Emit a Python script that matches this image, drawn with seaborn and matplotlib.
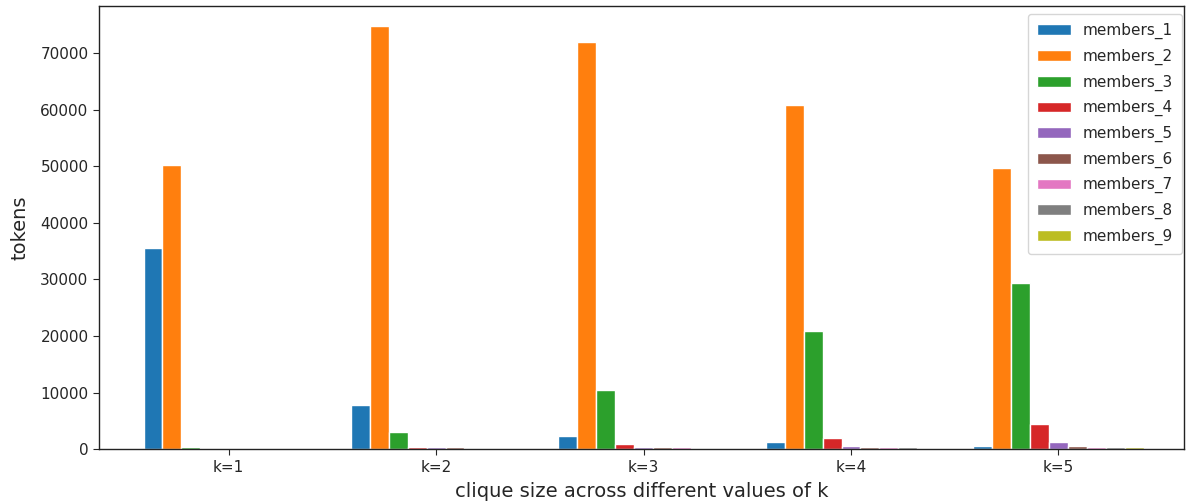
import numpy as np
import pandas as pd
import matplotlib
matplotlib.use("Agg")
import matplotlib.pyplot as plt
import seaborn as sns

# token counts per clique size, one list per member count
k_labels = ["k=1", "k=2", "k=3", "k=4", "k=5"]
members_1 = [35470, 7780, 2350, 1240, 640]
members_2 = [50200, 74700, 71900, 60900, 49600]
members_3 = [300, 2950, 10430, 20800, 29450]
members_4 = [0, 300, 880, 2050, 4400]
members_5 = [0, 300, 350, 640, 1240]
members_6 = [0, 300, 350, 300, 640]
members_7 = [0, 0, 300, 300, 300]
members_8 = [0, 0, 0, 300, 300]
members_9 = [0, 0, 0, 0, 300]

series = {
    "members_1": members_1,
    "members_2": members_2,
    "members_3": members_3,
    "members_4": members_4,
    "members_5": members_5,
    "members_6": members_6,
    "members_7": members_7,
    "members_8": members_8,
    "members_9": members_9,
}

rows = []
for name, vals in series.items():
    for k, v in zip(k_labels, vals):
        rows.append({"k": k, "members": name, "tokens": v})
df = pd.DataFrame(rows)

sns.set_style("white")
plt.rcParams["font.family"] = ["DejaVu Sans"]

fig = plt.figure(figsize=(11.92, 5.03), dpi=100)
ax = fig.add_axes([0.083, 0.107, 0.9103, 0.881])

palette = sns.color_palette("tab10", 9)
sns.barplot(data=df, x="k", y="tokens", hue="members", order=k_labels,
            hue_order=list(series.keys()), palette=palette, width=0.82,
            edgecolor="white", linewidth=1.0, saturation=1, ax=ax, errorbar=None)

ax.set_xlim(-0.625, 4.605)
ax.set_ylim(0, 78300)
ax.set_yticks(np.arange(0, 70001, 10000))
ax.set_xlabel("clique size across different values of k", fontsize=14, color="#262626",
              labelpad=5)
ax.set_ylabel("tokens", fontsize=14, color="#262626", labelpad=8)
ax.tick_params(axis="both", labelsize=11, colors="#262626", length=4, width=0.8,
               bottom=True, left=True)
for s in ax.spines.values():
    s.set_color("#222222")
    s.set_linewidth(1.0)

leg = ax.legend(loc="upper right", bbox_to_anchor=(0.9985, 0.982),
                bbox_transform=ax.transAxes, fontsize=11, frameon=True, title=None,
                handlelength=2.2, labelspacing=0.62, borderpad=0.6,
                borderaxespad=0.0)
leg.get_frame().set_edgecolor("#cccccc")
for t in leg.get_texts():
    t.set_color("#262626")

fig.savefig("out.png", dpi=100)
